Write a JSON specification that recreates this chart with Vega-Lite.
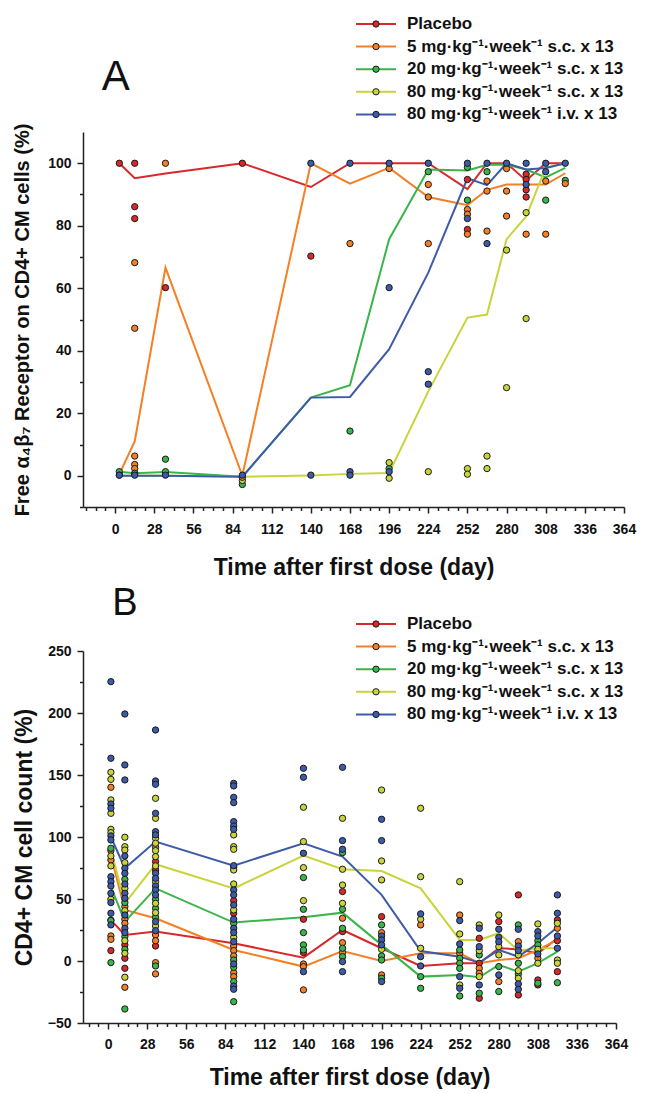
{
  "$schema": "https://vega.github.io/schema/vega-lite/v6.json",
  "background": "white",
  "padding": {"left": 12, "top": 16, "right": 2, "bottom": 0},
  "bounds": "flush",
  "spacing": 144,
  "resolve": {
    "scale": {"x": "independent", "y": "independent", "color": "independent", "fill": "independent"},
    "legend": {"color": "independent", "fill": "independent"}
  },
  "config": {
    "font": "Liberation Sans",
    "view": {"stroke": null},
    "axis": {
      "grid": false, "domainColor": "#222", "domainWidth": 1.5, "tickColor": "#222", "tickWidth": 1.5, "tickSize": 6,
      "labelFont": "Liberation Sans", "labelFontSize": 14, "labelFontWeight": "bold", "labelColor": "#111",
      "titleFont": "Liberation Sans", "titleFontWeight": "bold", "titleColor": "#111"
    },
    "legend": {
      "padding": 0, "labelFont": "Liberation Sans", "labelFontSize": 17, "labelFontWeight": "bold", "labelColor": "#111",
      "labelLimit": 400, "clipHeight": 16, "rowPadding": 5.6
    }
  },
  "datasets": {
    "meanA": [
      {"day":3,"g":"P","v":100},{"day":14,"g":"P","v":95.2},{"day":36,"g":"P","v":96.7},{"day":91,"g":"P","v":100},{"day":140,"g":"P","v":92.4},{"day":168,"g":"P","v":100},{"day":196,"g":"P","v":100},{"day":224,"g":"P","v":100},{"day":252,"g":"P","v":91.7},{"day":266,"g":"P","v":100},{"day":280,"g":"P","v":100},{"day":294,"g":"P","v":94.5},{"day":308,"g":"P","v":100},{"day":322,"g":"P","v":100},
      {"day":3,"g":"5","v":0.5},{"day":14,"g":"5","v":11},{"day":36,"g":"5","v":66.6},{"day":91,"g":"5","v":0},{"day":140,"g":"5","v":100},{"day":168,"g":"5","v":93.5},{"day":196,"g":"5","v":98.5},{"day":224,"g":"5","v":89.2},{"day":252,"g":"5","v":86.6},{"day":266,"g":"5","v":91.5},{"day":280,"g":"5","v":93.2},{"day":294,"g":"5","v":93.2},{"day":308,"g":"5","v":93.2},{"day":322,"g":"5","v":96.8},
      {"day":3,"g":"20","v":1.3},{"day":14,"g":"20","v":0.8},{"day":36,"g":"20","v":1.2},{"day":91,"g":"20","v":-0.3},{"day":140,"g":"20","v":25},{"day":168,"g":"20","v":29},{"day":196,"g":"20","v":75.7},{"day":224,"g":"20","v":98},{"day":252,"g":"20","v":97.7},{"day":266,"g":"20","v":99.5},{"day":280,"g":"20","v":99.6},{"day":294,"g":"20","v":98},{"day":308,"g":"20","v":95.5},{"day":322,"g":"20","v":98.5},
      {"day":3,"g":"80sc","v":0},{"day":14,"g":"80sc","v":0},{"day":36,"g":"80sc","v":0},{"day":91,"g":"80sc","v":-0.3},{"day":140,"g":"80sc","v":0.1},{"day":168,"g":"80sc","v":0.6},{"day":196,"g":"80sc","v":0.9},{"day":224,"g":"80sc","v":27},{"day":252,"g":"80sc","v":50.6},{"day":266,"g":"80sc","v":51.6},{"day":280,"g":"80sc","v":75.7},{"day":294,"g":"80sc","v":83},{"day":308,"g":"80sc","v":98.5},{"day":322,"g":"80sc","v":100},
      {"day":3,"g":"80iv","v":0},{"day":14,"g":"80iv","v":0},{"day":36,"g":"80iv","v":0},{"day":91,"g":"80iv","v":-0.3},{"day":140,"g":"80iv","v":25},{"day":168,"g":"80iv","v":25.2},{"day":196,"g":"80iv","v":40.5},{"day":224,"g":"80iv","v":65},{"day":252,"g":"80iv","v":95.2},{"day":266,"g":"80iv","v":93},{"day":280,"g":"80iv","v":100},{"day":294,"g":"80iv","v":98},{"day":308,"g":"80iv","v":98.5},{"day":322,"g":"80iv","v":100}
    ],
    "ptsA": [
      {"day":3,"g":"P","v":100},{"day":3,"g":"20","v":1.3},{"day":3,"g":"5","v":0.2},{"day":3,"g":"80iv","v":0.2},
      {"day":14,"g":"P","v":100},{"day":14,"g":"P","v":86.1},{"day":14,"g":"P","v":82.3},{"day":14,"g":"5","v":68.2},{"day":14,"g":"5","v":47.2},{"day":14,"g":"5","v":6.3},{"day":14,"g":"5","v":3.6},{"day":14,"g":"5","v":2.3},{"day":14,"g":"20","v":0.8},{"day":14,"g":"80iv","v":0.2},
      {"day":36,"g":"5","v":100},{"day":36,"g":"P","v":60.2},{"day":36,"g":"20","v":5.3},{"day":36,"g":"20","v":1.3},{"day":36,"g":"80iv","v":0.2},
      {"day":91,"g":"P","v":100},{"day":91,"g":"20","v":-2.8},{"day":91,"g":"80sc","v":-1.5},{"day":91,"g":"5","v":-0.5},{"day":91,"g":"80iv","v":0.2},
      {"day":140,"g":"P","v":70.3},{"day":140,"g":"80iv","v":100},{"day":140,"g":"80iv","v":0.2},
      {"day":168,"g":"5","v":74.3},{"day":168,"g":"20","v":14.3},{"day":168,"g":"80iv","v":100},{"day":168,"g":"80iv","v":1.3},{"day":168,"g":"80iv","v":0.2},
      {"day":196,"g":"5","v":98.3},{"day":196,"g":"20","v":2.3},{"day":196,"g":"80sc","v":4.2},{"day":196,"g":"80sc","v":-0.8},{"day":196,"g":"80iv","v":100},{"day":196,"g":"80iv","v":60.2},{"day":196,"g":"80iv","v":1.3},
      {"day":224,"g":"20","v":97.3},{"day":224,"g":"5","v":93.2},{"day":224,"g":"5","v":89.2},{"day":224,"g":"5","v":74.3},{"day":224,"g":"80sc","v":1.3},{"day":224,"g":"80iv","v":100},{"day":224,"g":"80iv","v":33.3},{"day":224,"g":"80iv","v":29.3},
      {"day":252,"g":"P","v":94.8},{"day":252,"g":"P","v":78.8},{"day":252,"g":"5","v":85.2},{"day":252,"g":"5","v":83.7},{"day":252,"g":"5","v":77.3},{"day":252,"g":"20","v":98.7},{"day":252,"g":"20","v":88.2},{"day":252,"g":"80sc","v":2.3},{"day":252,"g":"80sc","v":0.5},{"day":252,"g":"80iv","v":100},{"day":252,"g":"80iv","v":82.3},
      {"day":266,"g":"5","v":94.3},{"day":266,"g":"5","v":91.1},{"day":266,"g":"5","v":78.3},{"day":266,"g":"20","v":97.3},{"day":266,"g":"80sc","v":6.3},{"day":266,"g":"80sc","v":2.3},{"day":266,"g":"80iv","v":100},{"day":266,"g":"80iv","v":74.3},
      {"day":280,"g":"5","v":98.3},{"day":280,"g":"5","v":91.1},{"day":280,"g":"5","v":83.1},{"day":280,"g":"80sc","v":72.2},{"day":280,"g":"80sc","v":28.2},{"day":280,"g":"80iv","v":100},
      {"day":294,"g":"P","v":96.5},{"day":294,"g":"P","v":94.8},{"day":294,"g":"P","v":91.5},{"day":294,"g":"P","v":89.2},{"day":294,"g":"5","v":77.3},{"day":294,"g":"80sc","v":84.2},{"day":294,"g":"80sc","v":50.3},{"day":294,"g":"80iv","v":100},{"day":294,"g":"80iv","v":93.2},
      {"day":308,"g":"5","v":94.3},{"day":308,"g":"5","v":77.3},{"day":308,"g":"20","v":88.2},{"day":308,"g":"80iv","v":100},{"day":308,"g":"80iv","v":97.3},
      {"day":322,"g":"20","v":94.5},{"day":322,"g":"5","v":93.5},{"day":322,"g":"80iv","v":100}
    ],
    "meanB": [
      {"day":2,"g":"P","v":33},{"day":12,"g":"P","v":21},{"day":34,"g":"P","v":23.7},{"day":90,"g":"P","v":14.3},{"day":140,"g":"P","v":2.7},{"day":168,"g":"P","v":25},{"day":196,"g":"P","v":10.3},{"day":224,"g":"P","v":-4},{"day":252,"g":"P","v":-1.8},{"day":266,"g":"P","v":-1.8},{"day":280,"g":"P","v":10.3},{"day":294,"g":"P","v":9.5},{"day":308,"g":"P","v":6.2},{"day":322,"g":"P","v":18.3},
      {"day":2,"g":"5","v":85},{"day":12,"g":"5","v":41.2},{"day":34,"g":"5","v":34.5},{"day":90,"g":"5","v":8.9},{"day":140,"g":"5","v":-4.5},{"day":168,"g":"5","v":8.1},{"day":196,"g":"5","v":0.1},{"day":224,"g":"5","v":6.2},{"day":252,"g":"5","v":6.2},{"day":266,"g":"5","v":-1.8},{"day":280,"g":"5","v":0.8},{"day":294,"g":"5","v":2.2},{"day":308,"g":"5","v":8.9},{"day":322,"g":"5","v":17},
      {"day":2,"g":"20","v":60},{"day":12,"g":"20","v":31.8},{"day":34,"g":"20","v":58.6},{"day":90,"g":"20","v":31},{"day":140,"g":"20","v":35.3},{"day":168,"g":"20","v":39},{"day":196,"g":"20","v":13},{"day":224,"g":"20","v":-12.6},{"day":252,"g":"20","v":-11.3},{"day":266,"g":"20","v":-13.1},{"day":280,"g":"20","v":-3.2},{"day":294,"g":"20","v":-8.6},{"day":308,"g":"20","v":-1.8},{"day":322,"g":"20","v":7.6},
      {"day":2,"g":"80sc","v":90},{"day":12,"g":"80sc","v":46.5},{"day":34,"g":"80sc","v":78},{"day":90,"g":"80sc","v":58.6},{"day":140,"g":"80sc","v":85},{"day":168,"g":"80sc","v":74},{"day":196,"g":"80sc","v":72.6},{"day":224,"g":"80sc","v":58.6},{"day":252,"g":"80sc","v":17},{"day":266,"g":"80sc","v":17},{"day":280,"g":"80sc","v":22.4},{"day":294,"g":"80sc","v":8.4},{"day":308,"g":"80sc","v":10.3},{"day":322,"g":"80sc","v":10.3},
      {"day":2,"g":"80iv","v":100},{"day":12,"g":"80iv","v":74.8},{"day":34,"g":"80iv","v":96.3},{"day":90,"g":"80iv","v":76.9},{"day":140,"g":"80iv","v":95},{"day":168,"g":"80iv","v":84.2},{"day":196,"g":"80iv","v":53.3},{"day":224,"g":"80iv","v":8.1},{"day":252,"g":"80iv","v":3.5},{"day":266,"g":"80iv","v":-1.3},{"day":280,"g":"80iv","v":8.9},{"day":294,"g":"80iv","v":3.5},{"day":308,"g":"80iv","v":14.3},{"day":322,"g":"80iv","v":27.2}
    ],
    "ptsB": [
      {"day":2,"g":"P","v":33},{"day":2,"g":"P","v":8.4},{"day":2,"g":"5","v":140.1},{"day":2,"g":"5","v":89},{"day":2,"g":"5","v":81.5},{"day":2,"g":"5","v":20.2},{"day":2,"g":"5","v":17.5},{"day":2,"g":"20","v":90.9},{"day":2,"g":"20","v":32.6},{"day":2,"g":"20","v":-1.3},
      {"day":2,"g":"80sc","v":152.2},{"day":2,"g":"80sc","v":146.5},{"day":2,"g":"80sc","v":129.9},{"day":2,"g":"80sc","v":119.1},{"day":2,"g":"80sc","v":106.2},{"day":2,"g":"80sc","v":103.5},{"day":2,"g":"80sc","v":84.7},{"day":2,"g":"80sc","v":76.7},{"day":2,"g":"80sc","v":49.8},
      {"day":2,"g":"80iv","v":225.3},{"day":2,"g":"80iv","v":163.5},{"day":2,"g":"80iv","v":126.6},{"day":2,"g":"80iv","v":123.2},{"day":2,"g":"80iv","v":100.9},{"day":2,"g":"80iv","v":97.6},{"day":2,"g":"80iv","v":68},{"day":2,"g":"80iv","v":64},{"day":2,"g":"80iv","v":60.5},{"day":2,"g":"80iv","v":54.6},{"day":2,"g":"80iv","v":47.1},{"day":2,"g":"80iv","v":38.5},{"day":2,"g":"80iv","v":29.1},
      {"day":12,"g":"P","v":13},{"day":12,"g":"P","v":2.2},{"day":12,"g":"P","v":-5.9},{"day":12,"g":"5","v":43.9},{"day":12,"g":"5","v":33.7},{"day":12,"g":"5","v":30.4},{"day":12,"g":"5","v":-21.2},{"day":12,"g":"20","v":65.9},{"day":12,"g":"20","v":47.1},{"day":12,"g":"20","v":19.7},{"day":12,"g":"20","v":9.4},{"day":12,"g":"20","v":-38.7},
      {"day":12,"g":"80sc","v":99.8},{"day":12,"g":"80sc","v":92.2},{"day":12,"g":"80sc","v":89.5},{"day":12,"g":"80sc","v":79.3},{"day":12,"g":"80sc","v":58.6},{"day":12,"g":"80sc","v":40.6},{"day":12,"g":"80sc","v":16.4},{"day":12,"g":"80sc","v":6.2},{"day":12,"g":"80sc","v":-13.1},
      {"day":12,"g":"80iv","v":199.2},{"day":12,"g":"80iv","v":158.1},{"day":12,"g":"80iv","v":146},{"day":12,"g":"80iv","v":84.7},{"day":12,"g":"80iv","v":74.8},{"day":12,"g":"80iv","v":70.7},{"day":12,"g":"80iv","v":62.1},{"day":12,"g":"80iv","v":54.6},{"day":12,"g":"80iv","v":50.6},{"day":12,"g":"80iv","v":37.1},{"day":12,"g":"80iv","v":26.4},{"day":12,"g":"80iv","v":22.9},
      {"day":34,"g":"P","v":80.2},{"day":34,"g":"P","v":73.4},{"day":34,"g":"P","v":12.1},{"day":34,"g":"5","v":91.7},{"day":34,"g":"5","v":21},{"day":34,"g":"5","v":16.4},{"day":34,"g":"5","v":-1.3},{"day":34,"g":"5","v":-10.4},{"day":34,"g":"20","v":49.8},{"day":34,"g":"20","v":42.5},{"day":34,"g":"20","v":35.3},{"day":34,"g":"20","v":-4},
      {"day":34,"g":"80sc","v":131.2},{"day":34,"g":"80sc","v":115.1},{"day":34,"g":"80sc","v":99},{"day":34,"g":"80sc","v":95},{"day":34,"g":"80sc","v":89},{"day":34,"g":"80sc","v":84.2},{"day":34,"g":"80sc","v":76.7},{"day":34,"g":"80sc","v":64},{"day":34,"g":"80sc","v":46.5},{"day":34,"g":"80sc","v":39},{"day":34,"g":"80sc","v":28.3},
      {"day":34,"g":"80iv","v":186.3},{"day":34,"g":"80iv","v":145.2},{"day":34,"g":"80iv","v":142.5},{"day":34,"g":"80iv","v":119.1},{"day":34,"g":"80iv","v":104.3},{"day":34,"g":"80iv","v":101.7},{"day":34,"g":"80iv","v":70.7},{"day":34,"g":"80iv","v":66.7},{"day":34,"g":"80iv","v":60.5},{"day":34,"g":"80iv","v":57.3},{"day":34,"g":"80iv","v":53.3},{"day":34,"g":"80iv","v":31.8},{"day":34,"g":"80iv","v":24.5},
      {"day":90,"g":"P","v":48.7},{"day":90,"g":"P","v":38.5},{"day":90,"g":"5","v":12.1},{"day":90,"g":"5","v":8.4},{"day":90,"g":"5","v":4.1},{"day":90,"g":"5","v":-9.4},{"day":90,"g":"5","v":-12.6},{"day":90,"g":"20","v":30.4},{"day":90,"g":"20","v":0.8},{"day":90,"g":"20","v":-5.1},{"day":90,"g":"20","v":-16.6},{"day":90,"g":"20","v":-32.8},
      {"day":90,"g":"80sc","v":101.7},{"day":90,"g":"80sc","v":92.2},{"day":90,"g":"80sc","v":90.1},{"day":90,"g":"80sc","v":75.6},{"day":90,"g":"80sc","v":73.4},{"day":90,"g":"80sc","v":62.1},{"day":90,"g":"80sc","v":41.2},{"day":90,"g":"80sc","v":19.1},
      {"day":90,"g":"80iv","v":143.3},{"day":90,"g":"80iv","v":141.2},{"day":90,"g":"80iv","v":132},{"day":90,"g":"80iv","v":127.7},{"day":90,"g":"80iv","v":112.4},{"day":90,"g":"80iv","v":108.9},{"day":90,"g":"80iv","v":106.2},{"day":90,"g":"80iv","v":76.9},{"day":90,"g":"80iv","v":57.3},{"day":90,"g":"80iv","v":53.3},{"day":90,"g":"80iv","v":45.2},{"day":90,"g":"80iv","v":33.7},{"day":90,"g":"80iv","v":26.4},{"day":90,"g":"80iv","v":22.9},{"day":90,"g":"80iv","v":15.6},{"day":90,"g":"80iv","v":-2.4},{"day":90,"g":"80iv","v":-20.2},{"day":90,"g":"80iv","v":-22.8},
      {"day":140,"g":"P","v":33.7},{"day":140,"g":"P","v":6.8},{"day":140,"g":"5","v":-2.4},{"day":140,"g":"5","v":-4.5},{"day":140,"g":"5","v":-23.3},{"day":140,"g":"20","v":67.3},{"day":140,"g":"20","v":41.7},{"day":140,"g":"20","v":22.9},{"day":140,"g":"20","v":13},{"day":140,"g":"20","v":8.9},{"day":140,"g":"80sc","v":124},{"day":140,"g":"80sc","v":96.3},{"day":140,"g":"80sc","v":75.3},{"day":140,"g":"80sc","v":48.7},{"day":140,"g":"80iv","v":155.4},{"day":140,"g":"80iv","v":148.2},{"day":140,"g":"80iv","v":86.9},{"day":140,"g":"80iv","v":-8.6},
      {"day":168,"g":"P","v":56},{"day":168,"g":"P","v":23.7},{"day":168,"g":"5","v":34.5},{"day":168,"g":"5","v":14.8},{"day":168,"g":"5","v":6.8},{"day":168,"g":"20","v":87.4},{"day":168,"g":"20","v":41.7},{"day":168,"g":"20","v":26.4},{"day":168,"g":"20","v":10.3},{"day":168,"g":"20","v":3.5},{"day":168,"g":"80sc","v":115.1},{"day":168,"g":"80sc","v":74},{"day":168,"g":"80sc","v":61.3},{"day":168,"g":"80sc","v":46.5},{"day":168,"g":"80iv","v":156.2},{"day":168,"g":"80iv","v":97.1},{"day":168,"g":"80iv","v":90.1},{"day":168,"g":"80iv","v":-0.5},{"day":168,"g":"80iv","v":-8.6},
      {"day":196,"g":"P","v":35.8},{"day":196,"g":"5","v":22.9},{"day":196,"g":"5","v":-11.2},{"day":196,"g":"20","v":29.1},{"day":196,"g":"20","v":4.1},{"day":196,"g":"20","v":0.8},{"day":196,"g":"20","v":-13.9},{"day":196,"g":"80sc","v":137.9},{"day":196,"g":"80sc","v":80.7},{"day":196,"g":"80sc","v":65.4},{"day":196,"g":"80sc","v":9.4},{"day":196,"g":"80iv","v":114.3},{"day":196,"g":"80iv","v":97.1},{"day":196,"g":"80iv","v":20.2},{"day":196,"g":"80iv","v":17},{"day":196,"g":"80iv","v":13},{"day":196,"g":"80iv","v":-16.6},
      {"day":224,"g":"5","v":29.1},{"day":224,"g":"20","v":-12.6},{"day":224,"g":"20","v":-22},{"day":224,"g":"80sc","v":123.2},{"day":224,"g":"80sc","v":68},{"day":224,"g":"80sc","v":33.7},{"day":224,"g":"80sc","v":10.3},{"day":224,"g":"80iv","v":38},{"day":224,"g":"80iv","v":3.5},{"day":224,"g":"80iv","v":-4},
      {"day":252,"g":"5","v":37.1},{"day":252,"g":"5","v":6.2},{"day":252,"g":"20","v":8.9},{"day":252,"g":"20","v":2.2},{"day":252,"g":"20","v":-1.8},{"day":252,"g":"20","v":-5.9},{"day":252,"g":"20","v":-28.2},{"day":252,"g":"80sc","v":64},{"day":252,"g":"80sc","v":21.8},{"day":252,"g":"80sc","v":-19.3},{"day":252,"g":"80iv","v":32.6},{"day":252,"g":"80iv","v":13.8},{"day":252,"g":"80iv","v":-12.6},{"day":252,"g":"80iv","v":-22},
      {"day":266,"g":"P","v":18.3},{"day":266,"g":"P","v":-1.8},{"day":266,"g":"P","v":-30},{"day":266,"g":"5","v":-5.9},{"day":266,"g":"5","v":-9.9},{"day":266,"g":"20","v":4.9},{"day":266,"g":"20","v":-26},{"day":266,"g":"80sc","v":29.1},{"day":266,"g":"80sc","v":8.4},{"day":266,"g":"80sc","v":-12.6},{"day":266,"g":"80iv","v":26.4},{"day":266,"g":"80iv","v":11.6},{"day":266,"g":"80iv","v":-19.3},
      {"day":280,"g":"P","v":31.8},{"day":280,"g":"5","v":-16.6},{"day":280,"g":"20","v":-4.5},{"day":280,"g":"20","v":-24.6},{"day":280,"g":"80sc","v":37.1},{"day":280,"g":"80sc","v":11.6},{"day":280,"g":"80sc","v":4.9},{"day":280,"g":"80iv","v":25.6},{"day":280,"g":"80iv","v":19.1},{"day":280,"g":"80iv","v":15.6},{"day":280,"g":"80iv","v":-11.2},
      {"day":294,"g":"P","v":53.3},{"day":294,"g":"P","v":-27.4},{"day":294,"g":"5","v":15.6},{"day":294,"g":"20","v":29.1},{"day":294,"g":"20","v":-1.8},{"day":294,"g":"20","v":-10.4},{"day":294,"g":"80sc","v":4.9},{"day":294,"g":"80sc","v":-7.8},{"day":294,"g":"80sc","v":-13.9},{"day":294,"g":"80iv","v":25.6},{"day":294,"g":"80iv","v":12.1},{"day":294,"g":"80iv","v":8.4},{"day":294,"g":"80iv","v":-18.5},{"day":294,"g":"80iv","v":-22.8},
      {"day":308,"g":"P","v":-15.3},{"day":308,"g":"P","v":-19.3},{"day":308,"g":"5","v":2.2},{"day":308,"g":"20","v":16.4},{"day":308,"g":"20","v":13},{"day":308,"g":"20","v":-17.9},{"day":308,"g":"80sc","v":29.9},{"day":308,"g":"80sc","v":9.4},{"day":308,"g":"80sc","v":-1.8},{"day":308,"g":"80iv","v":23.7},{"day":308,"g":"80iv","v":20.2},{"day":308,"g":"80iv","v":5.7},
      {"day":322,"g":"P","v":33.1},{"day":322,"g":"P","v":16.4},{"day":322,"g":"P","v":-8.6},{"day":322,"g":"5","v":26.4},{"day":322,"g":"20","v":-17.5},{"day":322,"g":"80sc","v":30.4},{"day":322,"g":"80sc","v":0.8},{"day":322,"g":"80sc","v":-1.8},{"day":322,"g":"80iv","v":53.3},{"day":322,"g":"80iv","v":38.5},{"day":322,"g":"80iv","v":20.2},{"day":322,"g":"80iv","v":10.3}
    ]
  },
  "vconcat": [
    {
      "width": 541,
      "height": 375,
      "resolve": {"axis": {"x": "independent", "y": "independent"}},
      "layer": [
        {
          "data": {"name": "meanA"},
          "mark": {"type": "line", "strokeWidth": 2},
          "encoding": {
            "x": {"field": "day", "type": "quantitative", "scale": {"domain": [-23, 364], "nice": false, "zero": false},
              "axis": {"orient": "bottom", "values": [0,28,56,84,112,140,168,196,224,252,280,308,336,364], "title": "Time after first dose (day)", "titleFontSize": 23, "labelPadding": 9, "titlePadding": 20, "labelFlush": false}},
            "y": {"field": "v", "type": "quantitative", "scale": {"domain": [-10, 110], "nice": false, "zero": false},
              "axis": {"orient": "left", "values": [0,20,40,60,80,100], "title": "Free α₄β₇ Receptor on CD4+ CM cells (%)", "titleFontSize": 20, "labelPadding": 6, "titlePadding": 15}},
            "color": {"field": "g", "type": "nominal",
              "scale": {"domain": ["P","5","20","80sc","80iv"], "range": ["#d7282a","#f47f24","#3ab54a","#c8d43a","#3c5ba9"]},
              "legend": {"orient": "none", "legendX": 272, "legendY": -116, "title": null, "symbolType": "stroke", "symbolSize": 1600, "symbolStrokeWidth": 2, "labelOffset": 10,
                "labelExpr": "datum.label == 'P' ? 'Placebo' : datum.label == '5' ? '5 mg·kg⁻¹·week⁻¹ s.c. x 13' : datum.label == '20' ? '20 mg·kg⁻¹·week⁻¹ s.c. x 13' : datum.label == '80sc' ? '80 mg·kg⁻¹·week⁻¹ s.c. x 13' : '80 mg·kg⁻¹·week⁻¹ i.v. x 13'"}}
          }
        },
        {
          "data": {"name": "ptsA"},
          "mark": {"type": "point", "filled": true, "size": 40, "stroke": "#1a1a1a", "strokeWidth": 1, "opacity": 1},
          "encoding": {
            "x": {"field": "day", "type": "quantitative",
              "axis": {"orient": "bottom", "values": [-21,-14,-7,7,14,21,35,42,49,63,70,77,91,98,105,119,126,133,147,154,161,175,182,189,203,210,217,231,238,245,259,266,273,287,294,301,315,322,329,343,350,357], "tickSize": 3.5, "labels": false, "domain": false, "title": null}},
            "y": {"field": "v", "type": "quantitative",
              "axis": {"orient": "left", "values": [-10,10,30,50,70,90], "tickSize": 3.5, "labels": false, "domain": false, "title": null}},
            "fill": {"field": "g", "type": "nominal", "sort": ["P","5","20","80sc","80iv"],
              "scale": {"range": ["#d7282a","#f47f24","#3ab54a","#c8d43a","#3c5ba9"]},
              "legend": {"orient": "none", "legendX": 284.5, "legendY": -116, "title": null, "symbolType": "circle", "symbolSize": 40, "symbolStrokeColor": "#1a1a1a", "symbolStrokeWidth": 1, "symbolOpacity": 1, "labelExpr": "''"}}
          }
        },
        {
          "data": {"values": [{}]},
          "mark": {"type": "text", "fontSize": 42, "font": "Liberation Sans", "align": "center", "baseline": "alphabetic", "color": "#111"},
          "encoding": {
            "x": {"datum": 0.5, "type": "quantitative", "axis": null},
            "y": {"datum": 123.5, "type": "quantitative", "axis": null},
            "text": {"value": "A"}
          }
        }
      ]
    },
    {
      "width": 533,
      "height": 372,
      "resolve": {"axis": {"x": "independent", "y": "independent"}},
      "layer": [
        {
          "data": {"name": "meanB"},
          "mark": {"type": "line", "strokeWidth": 2},
          "encoding": {
            "x": {"field": "day", "type": "quantitative", "scale": {"domain": [-18, 364], "nice": false, "zero": false},
              "axis": {"orient": "bottom", "values": [0,28,56,84,112,140,168,196,224,252,280,308,336,364], "title": "Time after first dose (day)", "titleFontSize": 23, "labelPadding": 8, "titlePadding": 15, "labelFlush": false}},
            "y": {"field": "v", "type": "quantitative", "scale": {"domain": [-50, 250], "nice": false, "zero": false},
              "axis": {"orient": "left", "values": [-50,0,50,100,150,200,250], "title": "CD4+ CM cell count (%)", "titleFontSize": 23, "labelPadding": 6, "titlePadding": 11}},
            "color": {"field": "g", "type": "nominal",
              "scale": {"domain": ["P","5","20","80sc","80iv"], "range": ["#d7282a","#f47f24","#3ab54a","#c8d43a","#3c5ba9"]},
              "legend": {"orient": "none", "legendX": 272, "legendY": -35, "title": null, "symbolType": "stroke", "symbolSize": 1600, "symbolStrokeWidth": 2, "labelOffset": 10,
                "labelExpr": "datum.label == 'P' ? 'Placebo' : datum.label == '5' ? '5 mg·kg⁻¹·week⁻¹ s.c. x 13' : datum.label == '20' ? '20 mg·kg⁻¹·week⁻¹ s.c. x 13' : datum.label == '80sc' ? '80 mg·kg⁻¹·week⁻¹ s.c. x 13' : '80 mg·kg⁻¹·week⁻¹ i.v. x 13'"}}
          }
        },
        {
          "data": {"name": "ptsB"},
          "mark": {"type": "point", "filled": true, "size": 40, "stroke": "#1a1a1a", "strokeWidth": 1, "opacity": 1},
          "encoding": {
            "x": {"field": "day", "type": "quantitative",
              "axis": {"orient": "bottom", "values": [-14,-7,7,14,21,35,42,49,63,70,77,91,98,105,119,126,133,147,154,161,175,182,189,203,210,217,231,238,245,259,266,273,287,294,301,315,322,329,343,350,357], "tickSize": 3.5, "labels": false, "domain": false, "title": null}},
            "y": {"field": "v", "type": "quantitative",
              "axis": {"orient": "left", "values": [-25,25,75,125,175,225], "tickSize": 3.5, "labels": false, "domain": false, "title": null}},
            "fill": {"field": "g", "type": "nominal", "sort": ["P","5","20","80sc","80iv"],
              "scale": {"range": ["#d7282a","#f47f24","#3ab54a","#c8d43a","#3c5ba9"]},
              "legend": {"orient": "none", "legendX": 284.5, "legendY": -35, "title": null, "symbolType": "circle", "symbolSize": 40, "symbolStrokeColor": "#1a1a1a", "symbolStrokeWidth": 1, "symbolOpacity": 1, "labelExpr": "''"}}
          }
        },
        {
          "data": {"values": [{}]},
          "mark": {"type": "text", "fontSize": 38, "font": "Liberation Sans", "align": "center", "baseline": "alphabetic", "color": "#111"},
          "encoding": {
            "x": {"datum": 12, "type": "quantitative", "axis": null},
            "y": {"datum": 279, "type": "quantitative", "axis": null},
            "text": {"value": "B"}
          }
        }
      ]
    }
  ]
}
